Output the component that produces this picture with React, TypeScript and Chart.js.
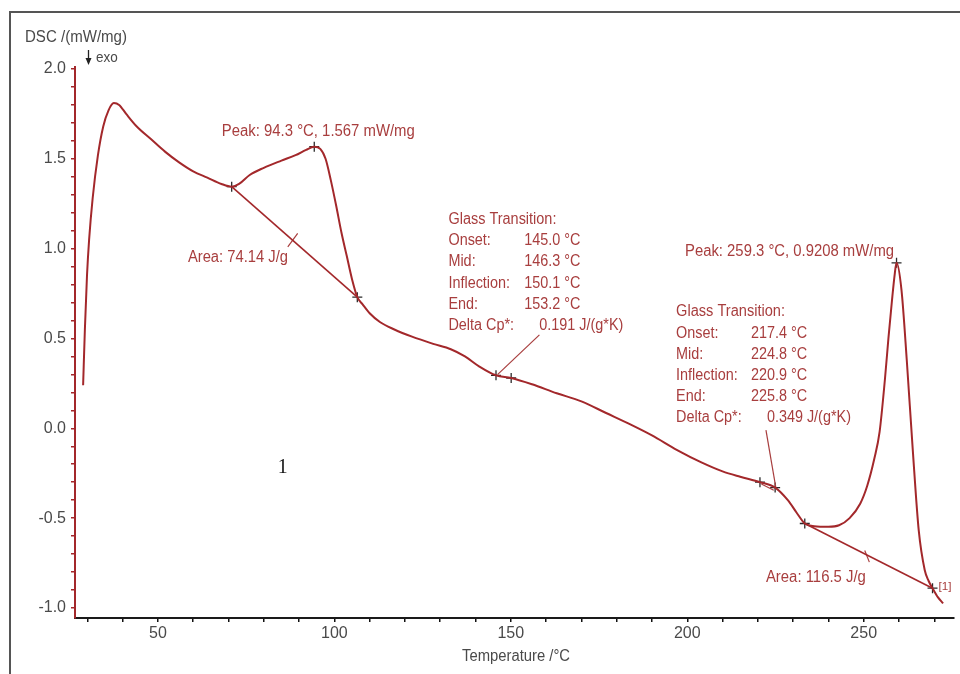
import React, { useEffect, useRef } from 'react';
import { Chart, registerables } from 'chart.js';

Chart.register(...registerables);

// ---- DSC curve (temperature °C, DSC mW/mg) ----
const dscTemp = [
  28.8, 29.3, 29.9, 30.5, 31.5, 33, 34.5, 36, 37.5, 39, 41, 44, 48, 52, 56, 60, 64, 68, 70.9,
  73, 76, 80, 85, 89, 92, 94.3, 96, 97.5, 99, 100.5, 102, 103.5, 105, 106.5, 108, 110, 113,
  117, 122, 128, 133, 137, 141, 145.8, 150.1, 156, 163, 170, 177, 184, 190, 197, 204, 210,
  215, 220.6, 224.9, 228.5, 231, 233.3, 236, 240, 243, 246, 249, 251, 253, 254.5, 256, 257, 258, 258.8,
  259.3, 260.7, 262.2, 263.9, 265.6, 267.3, 268.4, 269.5, 271, 272.5,
];
const dscValue = [
  0.24, 0.55, 0.85, 1.05, 1.28, 1.52, 1.68, 1.77, 1.81, 1.80, 1.75, 1.68, 1.61, 1.54, 1.48, 1.43, 1.395, 1.36, 1.345,
  1.36, 1.41, 1.45, 1.49, 1.52, 1.55, 1.567, 1.555, 1.5, 1.38, 1.24, 1.09, 0.96, 0.83, 0.73, 0.69, 0.64, 0.59,
  0.55, 0.51, 0.47, 0.44, 0.40, 0.345, 0.295, 0.28, 0.245, 0.195, 0.15, 0.085, 0.02, -0.04, -0.12, -0.19, -0.24,
  -0.27, -0.30, -0.33, -0.40, -0.47, -0.53, -0.545, -0.548, -0.54, -0.5, -0.42, -0.32, -0.17, -0.02, 0.27, 0.5, 0.71, 0.86,
  0.9208, 0.77, 0.38, -0.12, -0.57, -0.79, -0.85, -0.89, -0.94, -0.975,
];

// integration baselines
const base1Temp = [70.9, 106.5];
const base1Value = [1.345, 0.73];
const base2Temp = [233.3, 269.5];
const base2Value = [-0.53, -0.89];

// evaluation markers (+)
const markerTemp = [70.9, 94.3, 106.5, 145.8, 150.1, 220.6, 224.9, 233.3, 259.3, 269.5];
const markerValue = [1.345, 1.567, 0.73, 0.295, 0.28, -0.30, -0.33, -0.53, 0.9208, -0.89];

// leader lines [t1, v1, t2, v2]
const leaderArea1 = [86.8, 1.01, 89.6, 1.085];
const leaderGt1 = [146.3, 0.30, 158.1, 0.52];
const leaderGt2 = [222.3, -0.01, 225.1, -0.33];
const leaderGt2b = [221.0, -0.31, 224.5, -0.345];
const leaderArea2 = [250.3, -0.68, 251.6, -0.745];

// axis labels
const xLabelValues = [50, 100, 150, 200, 250];
const yLabelValues = [-1.0, -0.5, 0.0, 0.5, 1.0, 1.5, 2.0];

// text annotations
const gt1Labels = ['Onset:', 'Mid:', 'Inflection:', 'End:', 'Delta Cp*:'];
const gt1Values = ['145.0 °C', '146.3 °C', '150.1 °C', '153.2 °C', '0.191 J/(g*K)'];
const gt2Labels = ['Onset:', 'Mid:', 'Inflection:', 'End:', 'Delta Cp*:'];
const gt2Values = ['217.4 °C', '224.8 °C', '220.9 °C', '225.8 °C', '0.349 J/(g*K)'];

const CURVE = '#a3282b';
const TEXT_RED = '#a83e3e';
const AXIS_TEXT = '#4a4a4a';
const FONT = '"Liberation Sans", Arial, sans-serif';

const pts = (t: number[], v: number[]) => t.map((x, i) => ({ x, y: v[i] }));
const seg = (s: number[]) => [{ x: s[0], y: s[1] }, { x: s[2], y: s[3] }];

const textPlugin = {
  id: 'dscText',
  beforeDraw(chart: any) {
    const ctx = chart.ctx;
    ctx.save();
    ctx.strokeStyle = '#555';
    ctx.lineWidth = 2;
    ctx.beginPath();
    ctx.moveTo(10, 674);
    ctx.lineTo(10, 12);
    ctx.lineTo(960, 12);
    ctx.stroke();
    ctx.restore();
  },
  afterDraw(chart: any) {
    const ctx = chart.ctx;
    const xs = chart.scales.x;
    const ys = chart.scales.y;
    const px = (t: number) => xs.getPixelForValue(t);
    const py = (v: number) => ys.getPixelForValue(v);
    // w: exact target width (optional); otherwise a uniform 0.9 horizontal squeeze
    const put = (text: string, x: number, y: number, w: number | null, color: string, size = 16, family = FONT, align = 'left') => {
      ctx.save();
      ctx.font = `${size}px ${family}`;
      ctx.fillStyle = color;
      ctx.textBaseline = 'middle';
      ctx.textAlign = align;
      const m = ctx.measureText(text).width;
      const sx = w ? w / m : 0.9;
      ctx.translate(x, y);
      ctx.scale(sx, 1);
      ctx.fillText(text, 0, 0);
      ctx.restore();
    };

    // axis titles
    put('DSC /(mW/mg)', 25, 38, 102, AXIS_TEXT);
    ctx.save();
    ctx.strokeStyle = '#222';
    ctx.fillStyle = '#222';
    ctx.lineWidth = 1.3;
    ctx.beginPath();
    ctx.moveTo(88.5, 50);
    ctx.lineTo(88.5, 62);
    ctx.stroke();
    ctx.beginPath();
    ctx.moveTo(85.5, 58);
    ctx.lineTo(91.5, 58);
    ctx.lineTo(88.5, 65);
    ctx.closePath();
    ctx.fill();
    ctx.restore();
    put('exo', 96, 58, null, AXIS_TEXT, 15);
    put('Temperature /°C', 516, 657, 108, AXIS_TEXT, 16, FONT, 'center');

    // peak / area annotations
    put('Peak: 94.3 °C, 1.567 mW/mg', px(68.1), py(1.649), 193, TEXT_RED);
    put('Area: 74.14 J/g', px(58.5), py(0.948), 100, TEXT_RED);
    put('Peak: 259.3 °C, 0.9208 mW/mg', px(199.36), py(0.981), 209, TEXT_RED);
    put('Area: 116.5 J/g', px(222.28), py(-0.833), 100, TEXT_RED);
    put('[1]', px(271.22), py(-0.883), 13, TEXT_RED, 11);

    // glass transition 1
    const gt1LineV = [1.043, 0.926, 0.803, 0.686, 0.570];
    put('Glass Transition:', px(132.32), py(1.16), 108, TEXT_RED);
    gt1Labels.forEach((l, i) => {
      put(l, px(132.32), py(gt1LineV[i]), null, TEXT_RED);
      const last = i === gt1Labels.length - 1;
      put(gt1Values[i], px(last ? 158.06 : 153.82), py(gt1LineV[i]), null, TEXT_RED);
    });

    // glass transition 2
    const gt2LineV = [0.525, 0.408, 0.291, 0.175, 0.058];
    put('Glass Transition:', px(196.82), py(0.648), 109, TEXT_RED);
    gt2Labels.forEach((l, i) => {
      put(l, px(196.82), py(gt2LineV[i]), null, TEXT_RED);
      const last = i === gt2Labels.length - 1;
      put(gt2Values[i], px(last ? 222.56 : 218.03), py(gt2LineV[i]), null, TEXT_RED);
    });

    // sample number
    put('1', px(85.36), py(-0.215), null, '#111', 22, '"Liberation Serif", serif', 'center');
  },
};

export default function App() {
  const ref = useRef<HTMLCanvasElement | null>(null);

  useEffect(() => {
    if (!ref.current) return;
    const lineDs = (data: any[], width: number, color = CURVE) => ({
      type: 'line' as const,
      data,
      borderColor: color,
      borderWidth: width,
      pointRadius: 0,
      fill: false,
    });
    const chart = new Chart(ref.current, {
      type: 'line',
      data: {
        datasets: [
          { ...lineDs(pts(dscTemp, dscValue), 2), cubicInterpolationMode: 'monotone' },
          lineDs(pts(base1Temp, base1Value), 1.6),
          lineDs(pts(base2Temp, base2Value), 1.6),
          lineDs(seg(leaderArea1), 1.2, TEXT_RED),
          lineDs(seg(leaderGt1), 1.2, TEXT_RED),
          lineDs(seg(leaderGt2), 1.2, TEXT_RED),
          lineDs(seg(leaderGt2b), 1.2, TEXT_RED),
          lineDs(seg(leaderArea2), 1.2, TEXT_RED),
          {
            type: 'scatter' as const,
            data: pts(markerTemp, markerValue),
            pointStyle: 'cross',
            pointRadius: 5,
            borderColor: '#2a2a2a',
            backgroundColor: '#2a2a2a',
            pointBorderWidth: 1.3,
            showLine: false,
          } as any,
        ],
      } as any,
      options: {
        responsive: false,
        animation: false,
        devicePixelRatio: 1,
        layout: { padding: { top: 67, right: 5, left: 0, bottom: 0 } },
        plugins: { legend: { display: false }, tooltip: { enabled: false } },
        scales: {
          x: {
            type: 'linear',
            min: 26.5,
            max: 275.5,
            afterFit: (s: any) => { s.height = 56; },
            ticks: {
              stepSize: 10,
              includeBounds: false,
              autoSkip: false,
              maxRotation: 0,
              padding: 2,
              color: AXIS_TEXT,
              font: { family: FONT, size: 16 },
              callback: (v: any) => (xLabelValues.includes(Math.round(Number(v))) ? String(Math.round(Number(v))) : ''),
            },
            grid: { drawOnChartArea: false, drawTicks: true, tickLength: 4, color: '#111', lineWidth: 1.5 },
            border: { display: true, color: '#1a1a1a', width: 2 },
          },
          y: {
            type: 'linear',
            min: -1.056,
            max: 2.011,
            afterFit: (s: any) => { s.width = 75; },
            ticks: {
              stepSize: 0.1,
              includeBounds: false,
              autoSkip: false,
              padding: 5,
              color: AXIS_TEXT,
              font: { family: FONT, size: 16 },
              callback: (v: any) => {
                const r = Math.round(Number(v) * 10) / 10;
                const hit = yLabelValues.some((l) => Math.abs(l - r) < 1e-6);
                if (!hit) return '';
                const s = r.toFixed(1);
                return s === '-0.0' ? '0.0' : s;
              },
            },
            grid: { drawOnChartArea: false, drawTicks: true, tickLength: 4, color: CURVE, lineWidth: 1.5 },
            border: { display: true, color: CURVE, width: 2 },
          },
        },
      } as any,
      plugins: [textPlugin],
    });
    return () => chart.destroy();
  }, []);

  return (
    <div style={{ position: 'fixed', left: 0, top: 0, width: 960, height: 674, background: '#fff' }}>
      <canvas ref={ref} width={960} height={674} style={{ width: 960, height: 674, display: 'block' }} />
    </div>
  );
}
